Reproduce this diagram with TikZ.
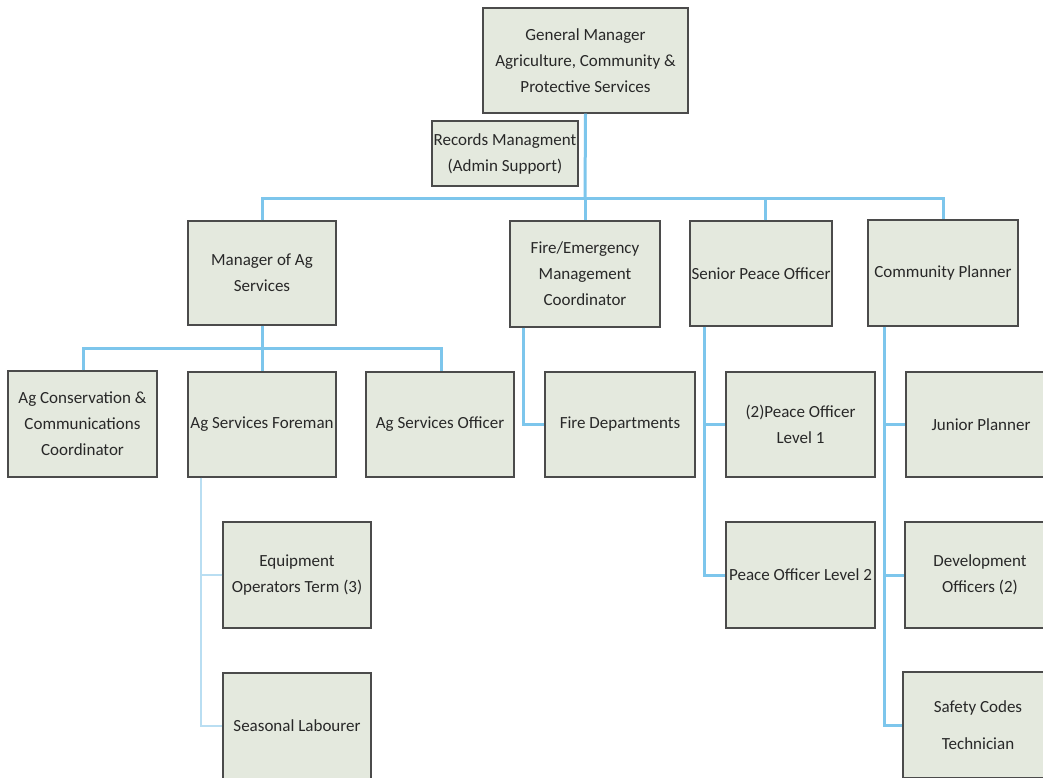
\documentclass[tikz,border=0pt]{standalone}
\usepackage{fontspec}
\setmainfont{Carlito}
\definecolor{boxfill}{RGB}{228,233,222}
\definecolor{boxline}{RGB}{75,75,75}
\definecolor{linkblue}{RGB}{125,198,236}
\definecolor{sublinkblue}{RGB}{185,222,242}
\definecolor{txt}{RGB}{40,40,40}
\begin{document}
\begin{tikzpicture}[x=1pt,y=-1pt,
  box/.style={draw=boxline, line width=1.3pt, fill=boxfill, rectangle, align=center,
    inner sep=1pt, text=txt, font=\fontsize{17}{26}\selectfont},
  link/.style={draw=linkblue, line width=3pt},
  sublink/.style={draw=sublinkblue, line width=2pt}]
\useasboundingbox (0,0) rectangle (1043,778);
\fill[white] (0,0) rectangle (1043,778);
% level 1
\node[box, minimum width=205pt, minimum height=105pt] (gm) at (585.5,60.5) {General Manager\\Agriculture, Community \&\\Protective Services};
\node[box, minimum width=146pt, minimum height=65pt] (rec) at (505,153.5) {Records Managment\\(Admin Support)};
% level 2
\node[box, minimum width=148pt, minimum height=104pt] (mgr) at (262,273) {Manager of Ag\\Services};
\node[box, minimum width=150pt, minimum height=106pt] (fire) at (585,274) {Fire/Emergency\\Management\\Coordinator};
\node[box, minimum width=142pt, minimum height=105pt] (sen) at (761,273.5) {Senior Peace Officer};
\node[box, minimum width=150pt, minimum height=106pt] (comm) at (943,273) {Community Planner};
% level 3
\node[box, minimum width=149pt, minimum height=106pt] (cons) at (82.5,424) {Ag Conservation \&\\Communications\\Coordinator};
\node[box, minimum width=148pt, minimum height=105pt] (fore) at (262,424.5) {Ag Services Foreman};
\node[box, minimum width=148pt, minimum height=105pt] (off) at (440,424.5) {Ag Services Officer};
\node[box, minimum width=150pt, minimum height=105pt] (fdept) at (620,424.5) {Fire Departments};
\node[box, minimum width=149pt, minimum height=105pt] (po1) at (800.5,424.5) {(2)Peace Officer\\Level 1};
\node[box, minimum width=149pt, minimum height=106pt] (po2) at (800.5,575) {Peace Officer Level 2};
\node[box, minimum width=150pt, minimum height=105pt] (jun) at (981,424.5) {Junior Planner};
\node[box, minimum width=150pt, minimum height=106pt] (dev) at (980,575) {Development\\Officers (2)};
\node[box, minimum width=150pt, minimum height=106pt] (saf) at (978,725) {Safety Codes\\[11pt]Technician};
\node[box, minimum width=148pt, minimum height=106pt] (equip) at (297,575) {Equipment\\Operators Term (3)};
\node[box, minimum width=148pt, minimum height=106pt] (seas) at (297,726) {Seasonal Labourer};
% connectors
\coordinate (b1) at (585,198);
\draw[link] (gm.south) -- (b1);
\draw[link] (mgr.north) |- (b1) -| (comm.north);
\draw[link] (b1) -- (fire.north);
\draw[link] ([xshift=4pt]sen.north) -- ([xshift=4pt]sen.north |- b1);
\coordinate (b2) at (262,348);
\draw[link] (mgr.south) -- (b2);
\draw[link] ([xshift=0.5pt]cons.north) |- (b2) -| ([xshift=1pt]off.north);
\draw[link] (b2) -- (fore.north);
\draw[link] ([xshift=-62pt]fire.south) |- (fdept.west);
\draw[link] ([xshift=-57pt]sen.south) |- (po2.west);
\draw[link] (po1.west) -- ++(-22,0);
\draw[link] ([xshift=-59pt]comm.south) |- (saf.west);
\draw[link] (jun.west) -- ++(-22,0);
\draw[link] (dev.west) -- ++(-21,0);
\draw[sublink] ([xshift=-61pt]fore.south) |- (seas.west);
\draw[sublink] (equip.west) -- ++(-22,0);
\end{tikzpicture}
\end{document}
